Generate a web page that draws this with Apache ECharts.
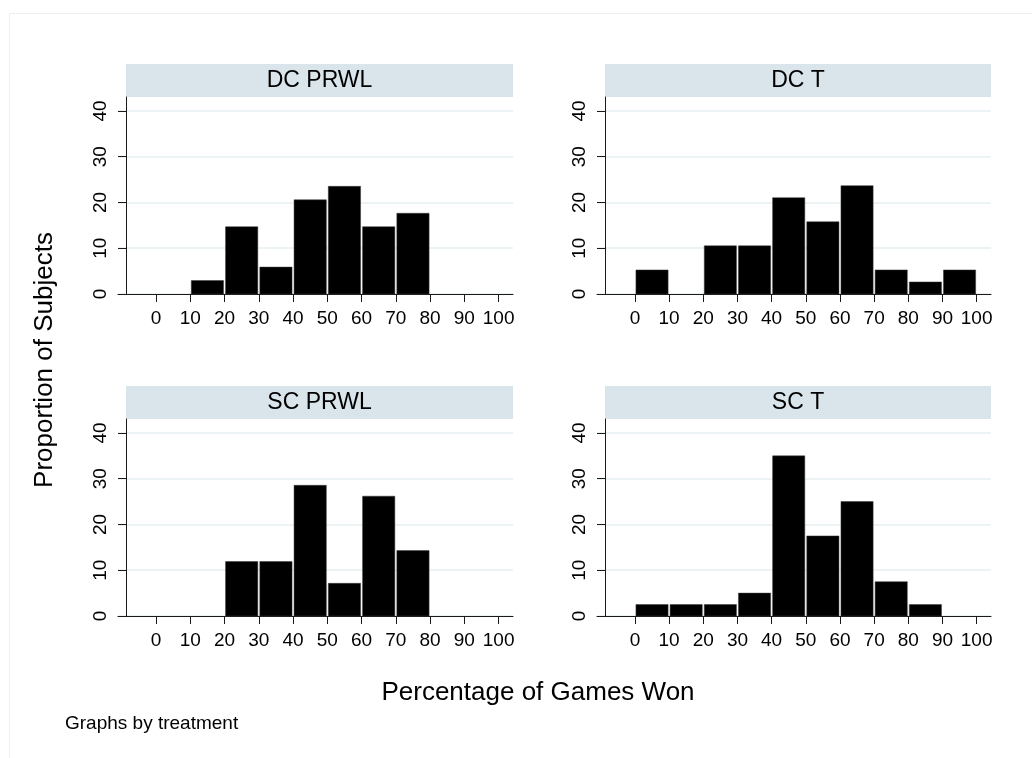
<!DOCTYPE html>
<html>
<head>
<meta charset="utf-8">
<script src="https://cdn.jsdelivr.net/npm/echarts@6/dist/echarts.min.js"></script>
<style>
  html, body { margin: 0; padding: 0; background: #ffffff; }
  #chart { width: 1032px; height: 758px; }
</style>
</head>
<body>
<div id="chart"></div>
<script>
// Histogram bins: percentage of games won, 10-point wide bins
const binStarts = [0, 10, 20, 30, 40, 50, 60, 70, 80, 90];
const binWidth = 10;

// Proportion of subjects (%) in each bin, by treatment
const panelTitles = ['DC PRWL', 'DC T', 'SC PRWL', 'SC T'];
const dcPrwl = [0, 2.94, 14.71, 5.88, 20.59, 23.53, 14.71, 17.65, 0, 0];
const dcT    = [5.26, 0, 10.53, 10.53, 21.05, 15.79, 23.68, 5.26, 2.63, 5.26];
const scPrwl = [0, 0, 11.90, 11.90, 28.57, 7.14, 26.19, 14.29, 0, 0];
const scT    = [2.5, 2.5, 2.5, 5.0, 35.0, 17.5, 25.0, 7.5, 2.5, 0];

// Axis ticks
const xTicks = [0, 10, 20, 30, 40, 50, 60, 70, 80, 90, 100];
const yTicks = [0, 10, 20, 30, 40];

const panelValues = [dcPrwl, dcT, scPrwl, scT];

const FONT = '"Liberation Sans", Arial, Helvetica, sans-serif';
const AXIS_COLOR = '#1a1a1a';
const GRID_COLOR = '#e6eff1';
const STRIP_COLOR = '#d9e5eb';

// Panel boxes (plot regions) in a 2 x 2 layout
const cols = [{ left: 118, width: 395 }, { left: 597, width: 394 }];
const rows = [{ top: 97, height: 197 }, { top: 419, height: 197 }];
const stripHeight = 33;
const axisInset = 8; // y axis sits slightly inside the plot region

const grids = [], xAxes = [], yAxes = [], series = [], graphics = [];

panelValues.forEach((vals, i) => {
  const c = cols[i % 2], r = rows[Math.floor(i / 2)];
  grids.push({ left: c.left, top: r.top, width: c.width, height: r.height, containLabel: false });

  xAxes.push({
    type: 'value', gridIndex: i, min: -11.1, max: 104.2,
    axisLine: { show: true, onZero: false, lineStyle: { color: AXIS_COLOR, width: 1 } },
    axisTick: { show: true, length: 8, customValues: xTicks, lineStyle: { color: AXIS_COLOR, width: 1 } },
    axisLabel: { show: true, customValues: xTicks, margin: 15, color: '#000', fontSize: 19, fontFamily: FONT },
    splitLine: { show: false }
  });

  yAxes.push({
    type: 'value', gridIndex: i, min: 0, max: 43.06, offset: -axisInset,
    axisLine: { show: true, onZero: false, lineStyle: { color: AXIS_COLOR, width: 1 } },
    axisTick: { show: true, length: 8, customValues: yTicks, lineStyle: { color: AXIS_COLOR, width: 1 } },
    axisLabel: { show: true, customValues: yTicks, rotate: 90, margin: 16, color: '#000', fontSize: 19, fontFamily: FONT },
    splitLine: { show: true, lineStyle: { color: GRID_COLOR, width: 1.5 } }
  });

  const data = binStarts.map((s, k) => [s, s + binWidth, vals[k]]).filter(d => d[2] > 0);
  series.push({
    type: 'custom', xAxisIndex: i, yAxisIndex: i, data: data,
    renderItem: function (params, api) {
      const p0 = api.coord([api.value(0), 0]);
      const p1 = api.coord([api.value(1), api.value(2)]);
      return {
        type: 'rect',
        shape: { x: p0[0] + 1, y: p1[1], width: p1[0] - p0[0] - 2, height: p0[1] - p1[1] },
        style: { fill: '#000000', stroke: '#3a3a3a', lineWidth: 0.5 }
      };
    },
    encode: { x: [0, 1], y: 2 },
    silent: true, animation: false
  });

  // title strip above each panel
  const sx = c.left + axisInset, sw = c.width - axisInset;
  graphics.push({
    type: 'rect', left: sx, top: r.top - stripHeight,
    shape: { width: sw, height: stripHeight }, style: { fill: STRIP_COLOR }, silent: true
  });
  graphics.push({
    type: 'text', x: sx + sw / 2, y: r.top - stripHeight / 2,
    style: { text: panelTitles[i], fill: '#000', font: '23px ' + FONT, align: 'center', verticalAlign: 'middle' },
    silent: true
  });
});

// outer frame of the graph region
graphics.unshift({
  type: 'rect', left: 7, top: 11, shape: { width: 1040, height: 760 },
  style: { fill: 'none', stroke: '#efefef', lineWidth: 1 }, silent: true
});

// shared axis titles and note
graphics.push({
  type: 'text', x: 538, y: 693,
  style: { text: 'Percentage of Games Won', fill: '#000', font: '26px ' + FONT, align: 'center', verticalAlign: 'middle' },
  silent: true
});
graphics.push({
  type: 'text', x: 45, y: 360, rotation: Math.PI / 2,
  style: { text: 'Proportion of Subjects', fill: '#000', font: '26px ' + FONT, align: 'center', verticalAlign: 'middle' },
  silent: true
});
graphics.push({
  type: 'text', x: 65, y: 724,
  style: { text: 'Graphs by treatment', fill: '#000', font: '19px ' + FONT, align: 'left', verticalAlign: 'middle' },
  silent: true
});

const chart = echarts.init(document.getElementById('chart'), null, { renderer: 'canvas' });
chart.setOption({
  animation: false,
  backgroundColor: '#ffffff',
  grid: grids, xAxis: xAxes, yAxis: yAxes, series: series,
  graphic: { elements: graphics }
});
</script>
</body>
</html>
